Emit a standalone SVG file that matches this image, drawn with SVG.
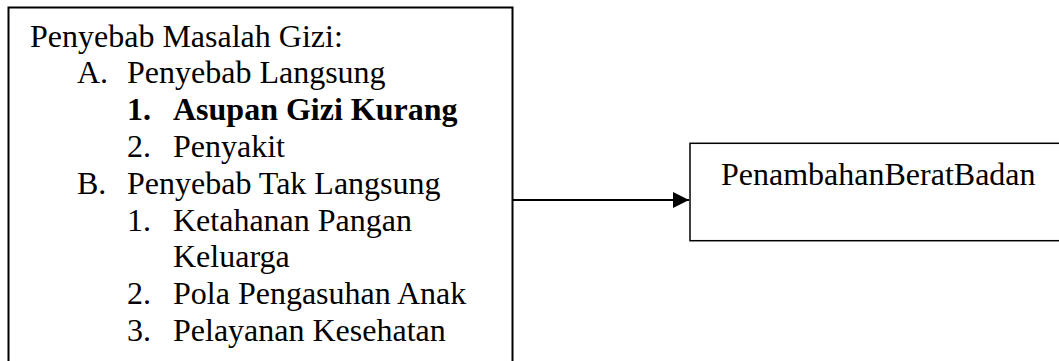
<svg xmlns="http://www.w3.org/2000/svg" width="1059" height="361" viewBox="0 0 1059 361">
  <style>
    .box { fill: #ffffff; stroke: #000000; stroke-width: 2; }
    .t { font-family: "Liberation Serif", "Times New Roman", serif; font-size: 32px; fill: #000000; }
    .b { font-weight: bold; }
    .conn { stroke: #000000; stroke-width: 2; fill: none; }
  </style>
  <defs>
    <marker id="arrow" markerWidth="8" markerHeight="8" refX="8" refY="4" orient="auto" markerUnits="strokeWidth">
      <path d="M0,0 L8,4 L0,8 Z" fill="#000000"/>
    </marker>
  </defs>
  <rect width="1059" height="361" fill="#ffffff"/>
  <g id="causes">
    <rect class="box" x="8.5" y="7.5" width="504" height="400"/>
    <text class="t" x="30" y="46.5">Penyebab Masalah Gizi:</text>
    <text class="t" x="77" y="83.3">A.</text>
    <text class="t" x="127" y="83.3">Penyebab Langsung</text>
    <text class="t b" x="127" y="120.1">1.</text>
    <text class="t b" x="173" y="120.1">Asupan Gizi Kurang</text>
    <text class="t" x="127" y="156.9">2.</text>
    <text class="t" x="173" y="156.9">Penyakit</text>
    <text class="t" x="77" y="193.7">B.</text>
    <text class="t" x="127" y="193.7">Penyebab Tak Langsung</text>
    <text class="t" x="127" y="230.5">1.</text>
    <text class="t" x="173" y="230.5">Ketahanan Pangan</text>
    <text class="t" x="173" y="267.3">Keluarga</text>
    <text class="t" x="127" y="304.1">2.</text>
    <text class="t" x="173" y="304.1">Pola Pengasuhan Anak</text>
    <text class="t" x="127" y="340.9">3.</text>
    <text class="t" x="173" y="340.9">Pelayanan Kesehatan</text>
  </g>
  <g id="weight-gain">
    <rect class="box" x="690" y="143.3" width="400" height="97.4" style="stroke-width:1.5"/>
    <text class="t" x="721" y="185">PenambahanBeratBadan</text>
  </g>
  <g id="connectors">
    <line class="conn" x1="513" y1="200" x2="689" y2="200" marker-end="url(#arrow)"/>
  </g>
</svg>
